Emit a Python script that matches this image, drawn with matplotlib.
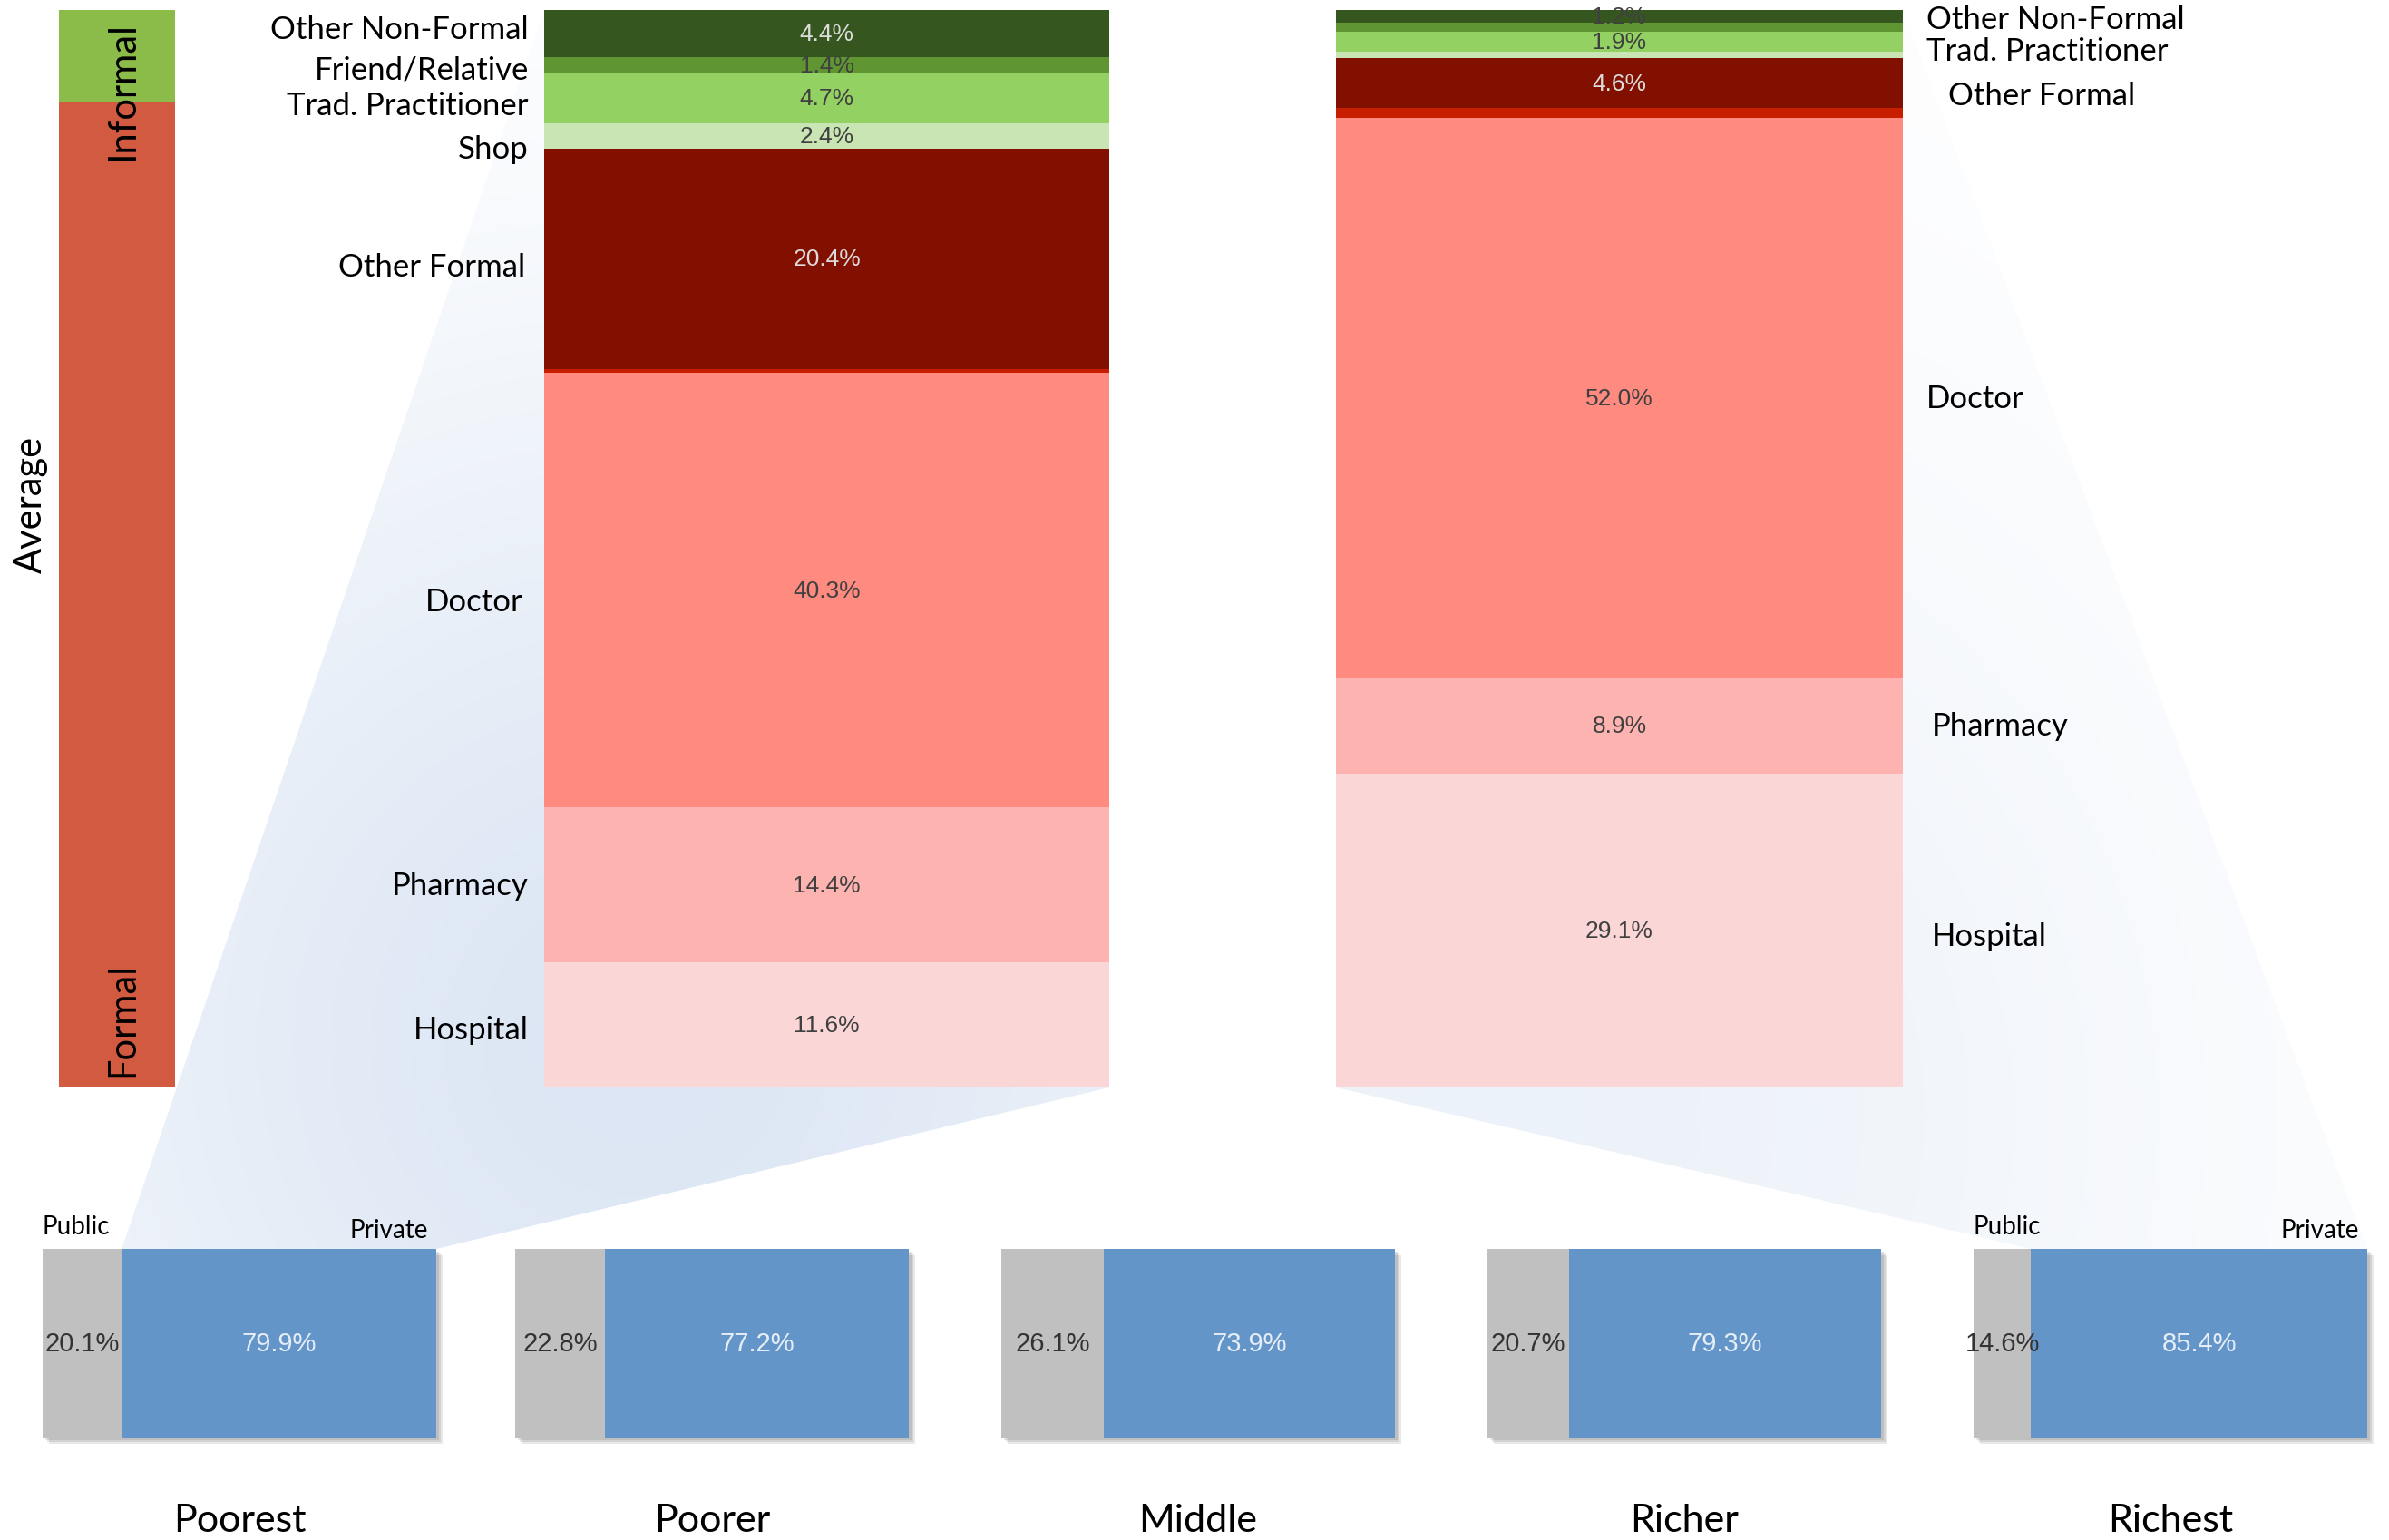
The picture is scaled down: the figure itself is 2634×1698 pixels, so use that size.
import numpy as np
import matplotlib.pyplot as plt
import matplotlib.patheffects as pe
from matplotlib.patches import Polygon

W, H = 2634, 1699

# stacked shares, listed bottom -> top
categories = ["Hospital", "Pharmacy", "Doctor", "Other Clinic", "Other Formal",
              "Shop", "Trad. Practitioner", "Friend/Relative", "Other Non-Formal"]
poorest_shares = [11.6, 14.4, 40.3, 0.4, 20.4, 2.4, 4.7, 1.4, 4.4]
richest_shares = [29.1, 8.9, 52.0, 0.9, 4.6, 0.6, 1.9, 0.8, 1.2]
cat_colors = ["#fad6d6", "#fdb3af", "#ff8a80", "#c81e00", "#821000",
              "#c8e5b3", "#93d163", "#5f9632", "#36561f"]
dark_cats = ["Other Formal", "Other Non-Formal"]

avg_labels = ["Formal", "Informal"]
avg_shares = [91.4, 8.6]
avg_colors = ["#d25a41", "#8bbb49"]

quintiles = ["Poorest", "Poorer", "Middle", "Richer", "Richest"]
public_share = [20.1, 22.8, 26.1, 20.7, 14.6]
private_share = [79.9, 77.2, 73.9, 79.3, 85.4]

LABEL_FONT = ["Lato", "DejaVu Sans"]
NUM_FONT = ["Liberation Sans", "DejaVu Sans"]


def px_axes(fig, x0, y0, x1, y1, **kw):
    return fig.add_axes([x0 / W, 1 - y1 / H, (x1 - x0) / W, (y1 - y0) / H], **kw)


fig = plt.figure(figsize=(W / 100, H / 100), dpi=100)

# background layer for the zoom fans
bg = px_axes(fig, 0, 0, W, H, zorder=0)
bg.set_xlim(0, W)
bg.set_ylim(H, 0)
bg.axis("off")

left_stack = (600, 12, 1223, 1200)
right_stack = (1473, 12, 2098, 1200)
bar_x = [47, 568, 1104, 1640, 2176]
bar_w = 434
bar_y0, bar_y1 = 1378, 1586


def fan(verts, center, radius, amax):
    yy, xx = np.mgrid[0:H:4, 0:W:4]
    d2 = ((xx - center[0]) ** 2 + (yy - center[1]) ** 2) / radius ** 2
    img = np.zeros(xx.shape + (4,))
    img[..., 0] = 0.84
    img[..., 1] = 0.89
    img[..., 2] = 0.95
    img[..., 3] = amax * np.exp(-d2)
    poly = Polygon(verts, closed=True, facecolor="none", edgecolor="none")
    bg.add_patch(poly)
    im = bg.imshow(img, extent=(0, W, H, 0), interpolation="bilinear", zorder=0)
    im.set_clip_path(poly)


p0 = bar_x[0] + bar_w * public_share[0] / 100
fan([(left_stack[0], left_stack[1]), (left_stack[2], left_stack[3]),
     (bar_x[0] + bar_w, bar_y0), (p0, bar_y0)], (700, 1150), 750, 0.85)
p4 = bar_x[4] + bar_w * public_share[4] / 100
fan([(right_stack[2], right_stack[1]), (bar_x[4] + bar_w, bar_y0),
     (p4, bar_y0), (right_stack[0], right_stack[3])], (1650, 1230), 800, 0.45)

# average bar
ax_avg = px_axes(fig, 65, 12, 193, 1200)
bottom = 0
for lab, v, c in zip(avg_labels, avg_shares, avg_colors):
    ax_avg.bar(0, v, bottom=bottom, width=1, color=c, linewidth=0)
    bottom += v
ax_avg.set_xlim(-0.5, 0.5)
ax_avg.set_ylim(0, 100)
ax_avg.axis("off")
ax_avg.text(0.55, 99, "Informal", rotation=90, ha="center", va="top",
            transform=ax_avg.get_yaxis_transform(), fontsize=30, family=LABEL_FONT)
ax_avg.text(0.55, 1, "Formal", rotation=90, ha="center", va="bottom",
            transform=ax_avg.get_yaxis_transform(), fontsize=30, family=LABEL_FONT)
fig.text(34 / W, 1 - 556 / H, "Average", rotation=90, ha="center", va="center",
         fontsize=30, family=LABEL_FONT)


def draw_stack(box, shares, side, nudges, xnudge):
    ax = px_axes(fig, *box)
    bottom = 0
    for cat, v, c in zip(categories, shares, cat_colors):
        ax.bar(0, v, bottom=bottom, width=1, color=c, linewidth=0)
        mid = bottom + v / 2
        if v >= 1.0:
            light = cat in dark_cats and v >= 2
            ax.text(0, mid, f"{v:.1f}%", ha="center", va="center", fontsize=19,
                    family=NUM_FONT, color="#dcdcdc" if light else "#404040")
            ly = mid + nudges.get(cat, 0)
            if side == "left":
                ax.annotate(cat, xy=(0, ly), xycoords=("axes fraction", "data"),
                            xytext=(-17 + xnudge.get(cat, 0), 0), textcoords="offset pixels",
                            ha="right", va="center", fontsize=25, family=LABEL_FONT)
            else:
                ax.annotate(cat, xy=(1, ly), xycoords=("axes fraction", "data"),
                            xytext=(26 + xnudge.get(cat, 0), 0), textcoords="offset pixels",
                            ha="left", va="center", fontsize=25, family=LABEL_FONT)
        bottom += v
    ax.set_xlim(-0.5, 0.5)
    ax.set_ylim(0, 100)
    ax.axis("off")


draw_stack(left_stack, poorest_shares, "left",
           {"Other Non-Formal": 0.4, "Friend/Relative": -0.4, "Trad. Practitioner": -0.7,
            "Shop": -1.2, "Other Formal": -0.7, "Doctor": -1.0, "Hospital": -0.4},
           {"Other Formal": -4, "Doctor": -6})
draw_stack(right_stack, richest_shares, "right",
           {"Other Non-Formal": -0.25, "Trad. Practitioner": -0.85, "Other Formal": -1.1,
            "Hospital": -0.5},
           {"Other Formal": 24, "Pharmacy": 6, "Hospital": 6})

# public / private bars per quintile
shadow = [pe.SimplePatchShadow(offset=(o, -o), shadow_rgbFace="k", alpha=0.09)
          for o in (2, 3.5, 5)] + [pe.Normal()]
for i, (q, pub, pri) in enumerate(zip(quintiles, public_share, private_share)):
    ax = px_axes(fig, bar_x[i], bar_y0, bar_x[i] + bar_w, bar_y1)
    b1 = ax.barh(0, pub, height=1, color="#bfc0bf", linewidth=0)
    b2 = ax.barh(0, pri, left=pub, height=1, color="#6395c9", linewidth=0)
    for b in list(b1) + list(b2):
        b.set_path_effects(shadow)
        b.set_clip_on(False)
    ax.text(pub / 2, 0, f"{pub:.1f}%", ha="center", va="center", fontsize=21,
            family=NUM_FONT, color="#333333")
    ax.text(pub + pri / 2, 0, f"{pri:.1f}%", ha="center", va="center", fontsize=21,
            family=NUM_FONT, color="#e6edf6")
    ax.set_xlim(0, 100)
    ax.set_ylim(-0.5, 0.5)
    ax.axis("off")
    if i in (0, len(quintiles) - 1):
        ax.text(0, 1.06, "Public", ha="left", va="bottom", transform=ax.transAxes,
                fontsize=20, family=LABEL_FONT)
        ax.text(0.98, 1.04, "Private", ha="right", va="bottom", transform=ax.transAxes,
                fontsize=20, family=LABEL_FONT)
    fig.text((bar_x[i] + bar_w * 0.5) / W, 1 - 1677 / H, q, ha="center", va="center",
             fontsize=31, family=LABEL_FONT)

fig.savefig("out.png", dpi=100, facecolor="white")
